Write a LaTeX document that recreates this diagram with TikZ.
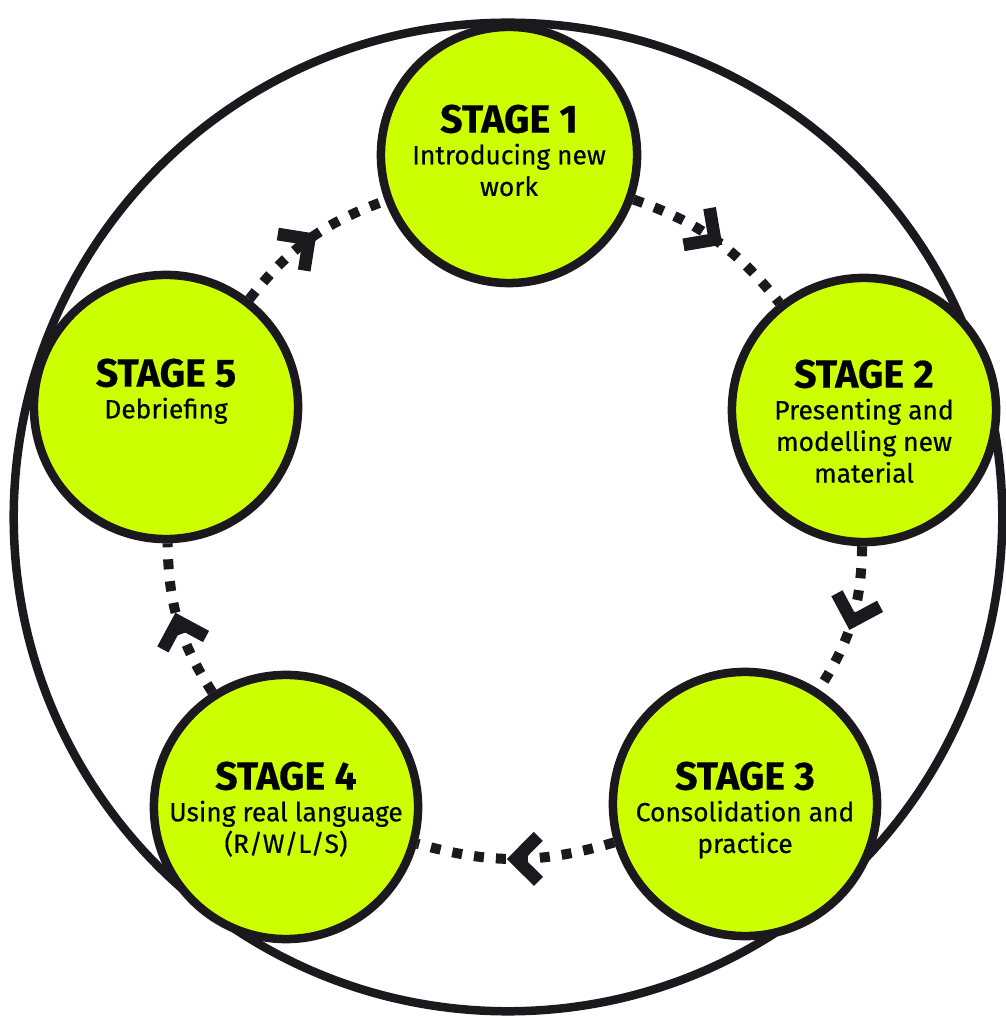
\documentclass[tikz,border=0pt]{standalone}
\usepackage{fontspec}
\setmainfont{Fira Sans}
\usepackage{xcolor}
\usepackage{tikz}
\usetikzlibrary{positioning,arrows.meta}

\definecolor{stagefill}{HTML}{CCFF00}
\definecolor{inkline}{HTML}{1B191D}
\newcommand{\stagehead}[1]{{\fontsize{11.2}{12}\selectfont\bfseries #1}}

\tikzset{
    chevron/.pic={\fill[inkline]
        (-0.27cm,0.18cm) -- (-0.18cm,0.27cm) -- (0.09cm,0cm) -- (-0.18cm,-0.27cm) -- (-0.27cm,-0.18cm) -- (-0.09cm,0cm) -- cycle;}
}

\begin{document}
\begin{tikzpicture}[x=0.01cm, y=0.01cm,
    stage/.style={circle, draw=inkline, line width=0.085cm, fill=stagefill, minimum size=2.64cm, inner sep=0pt},
    stagetext/.style={anchor=north, align=center, inner sep=0pt, font=\fontsize{7.5}{9}\selectfont\addfontfeature{FakeBold=0.4}},
    flow/.style={draw=inkline, line width=0.1cm, dash pattern=on 0.1cm off 0.12cm, bend left=16},
    mid/.style={pos=0.5, sloped, allow upside down}]
\useasboundingbox (0,0) rectangle (1005,1018);
\fill[white] (0,0) rectangle (1005,1018);
\draw[inkline, line width=0.085cm] (508,501) circle (4.94cm);

\node[stage, minimum size=2.56cm] (stage_1) at (509,863) {};
\node[stage] (stage_2) at (864,608) {};
\node[stage] (stage_3) at (745,214) {};
\node[stage] (stage_4) at (286,211) {};
\node[stage] (stage_5) at (166,611) {};

\node[stagetext] (text_1) at ([yshift=0.51cm]stage_1.center) {\stagehead{STAGE 1}\\Introducing new\\work};
\node[stagetext] (text_2) at ([yshift=0.51cm]stage_2.center) {\stagehead{STAGE 2}\\Presenting and\\modelling new\\material};
\node[stagetext] (text_3) at ([yshift=0.43cm]stage_3.center) {\stagehead{STAGE 3}\\Consolidation and\\practice};
\node[stagetext] (text_4) at ([yshift=0.46cm]stage_4.center) {\stagehead{STAGE 4}\\Using real language\\(R/W/L/S)};
\node[stagetext] (text_5) at ([yshift=0.49cm]stage_5.center) {\stagehead{STAGE 5}\\Debriefing};

\draw[flow] (stage_1) to pic[mid]{chevron} (stage_2);
\draw[flow] (stage_2) to pic[mid]{chevron} (stage_3);
\draw[flow] (stage_3) to pic[mid]{chevron} (stage_4);
\draw[flow] (stage_4) to pic[mid]{chevron} (stage_5);
\draw[flow] (stage_5) to pic[mid]{chevron} (stage_1);

\end{tikzpicture}
\end{document}
